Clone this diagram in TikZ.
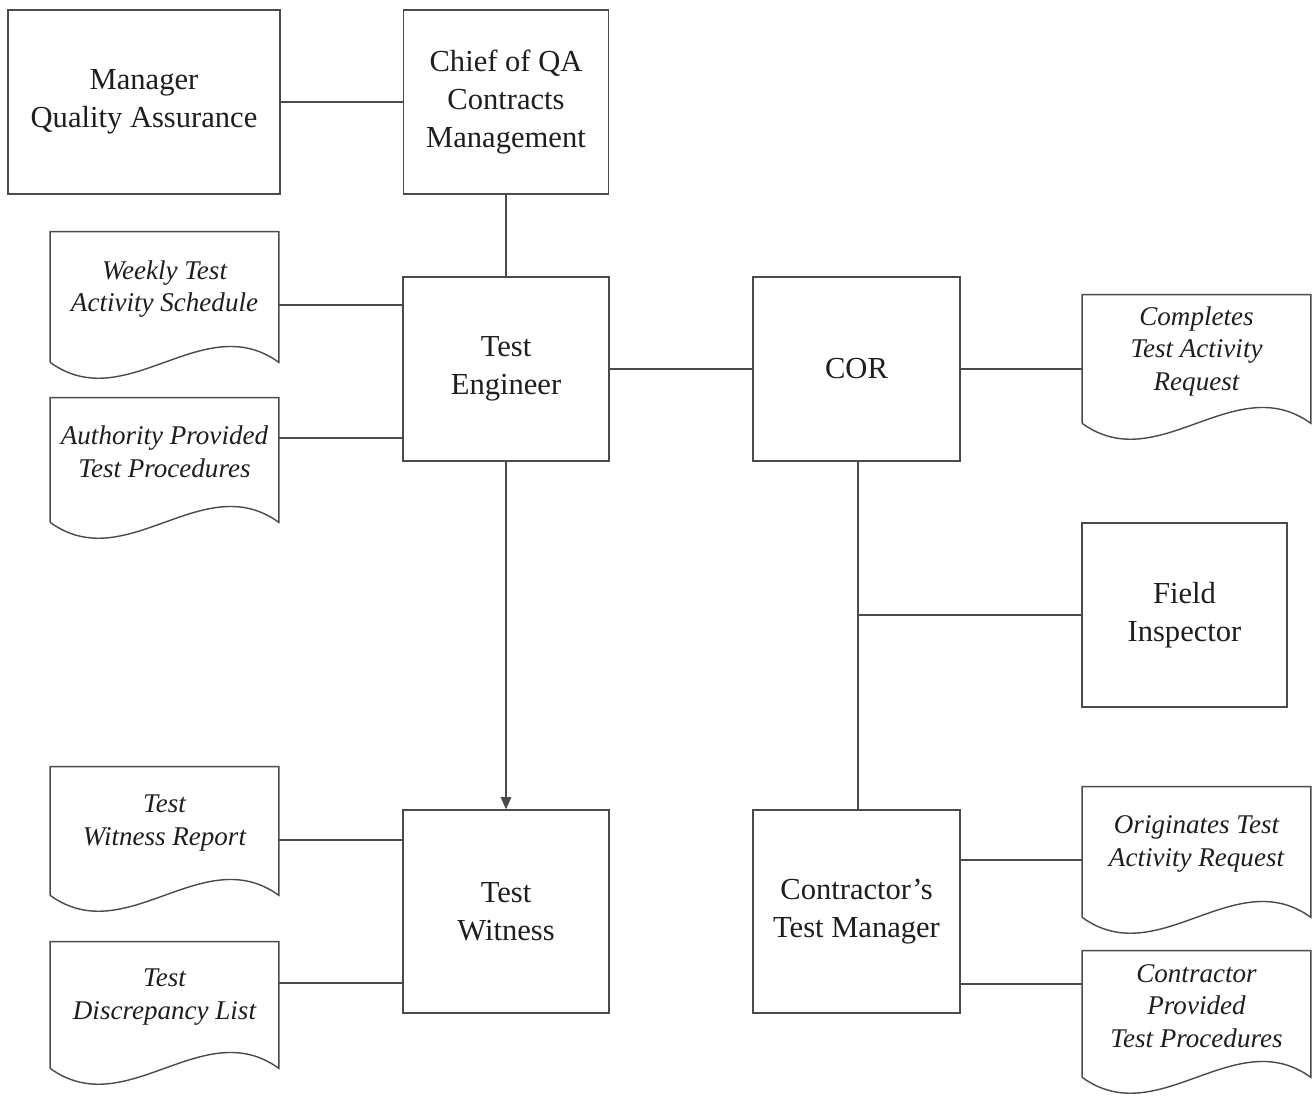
\documentclass[tikz,border=0pt]{standalone}
\usepackage{fontspec}
\setmainfont{Liberation Serif}
\usepackage{tikz}
\usetikzlibrary{arrows.meta, positioning, calc}
\definecolor{lineGray}{HTML}{4A4A4A}
\definecolor{inkDark}{HTML}{1E1E1E}

% outline of a document symbol drawn round a docbox node
\newcommand{\docwave}[1]{%
  \draw[lineGray, line width=0.8pt]
    ($(#1.south west)+(0,16)$) -- (#1.north west) -- (#1.north east)
    -- ($(#1.south east)+(0,16)$)
    .. controls +(-76,-55) and +(76,55) .. ($(#1.south west)+(0,16)$);}

\begin{document}
\begin{tikzpicture}[x=0.02cm, y=-0.02cm,
    orgbox/.style={draw=lineGray, line width=0.8pt, align=center, text=inkDark,
      font=\fontsize{17.4}{21.6}\selectfont, inner sep=2pt},
    docbox/.style={minimum width=228*0.02cm, align=center, text=inkDark,
      font=\itshape\fontsize{15.4}{18.5}\selectfont, inner sep=1pt},
    link/.style={lineGray, line width=0.8pt}]
  \useasboundingbox (0,0) rectangle (1316,1096);

  % organisation boxes
  \node[orgbox, minimum width=272*0.02cm, minimum height=184*0.02cm]
    (mqa) at (144,102) {Manager\\Quality Assurance};
  \node[orgbox, minimum width=205*0.02cm, minimum height=184*0.02cm]
    (chief) at (506,102) {Chief of QA\\Contracts\\Management};
  \node[orgbox, minimum width=206*0.02cm, minimum height=184*0.02cm]
    (te) at (506,369) {Test\\Engineer};
  \node[orgbox, minimum width=207*0.02cm, minimum height=184*0.02cm]
    (cor) at (856.5,369) {COR};
  \node[orgbox, minimum width=205*0.02cm, minimum height=184*0.02cm]
    (fi) at (1184.5,615) {Field\\Inspector};
  \node[orgbox, minimum width=206*0.02cm, minimum height=203*0.02cm]
    (tw) at (506,911.5) {Test\\Witness};
  \node[orgbox, minimum width=207*0.02cm, minimum height=203*0.02cm]
    (ctm) at (856.5,911.5) {Contractor’s\\Test Manager};

  % documents
  \node[docbox, minimum height=114*0.02cm] (wts) at (164.5,289)
    {Weekly Test\\Activity Schedule};
  \node[docbox, minimum height=108*0.02cm] (aptp) at (164.5,452)
    {Authority Provided\\Test Procedures};
  \node[docbox, minimum height=112*0.02cm] (twr) at (164.5,823)
    {Test\\Witness Report};
  \node[docbox, minimum height=110*0.02cm] (tdl) at (164.5,997)
    {Test\\Discrepancy List};
  \node[docbox, minimum height=112*0.02cm] (ctar) at (1196.5,351)
    {Completes\\Test Activity\\Request};
  \node[docbox, minimum height=114*0.02cm] (otar) at (1196.5,844)
    {Originates Test\\Activity Request};
  \node[docbox, minimum height=110*0.02cm] (cptp) at (1196.5,1006)
    {Contractor\\Provided\\Test Procedures};
  \foreach \d in {wts, aptp, twr, tdl, ctar, otar, cptp}
    \docwave{\d};

  % connection points
  \coordinate (te-wts) at ($(te.west)+(0,-64)$);
  \coordinate (te-aptp) at ($(te.west)+(0,69)$);
  \coordinate (tw-twr) at ($(tw.west)+(0,-71.5)$);
  \coordinate (tw-tdl) at ($(tw.west)+(0,71.5)$);
  \coordinate (ctm-otar) at ($(ctm.east)+(0,-51.5)$);
  \coordinate (ctm-cptp) at ($(ctm.east)+(0,72.5)$);
  \coordinate (cor-fi) at ($(cor.south)+(1.5,0)$);

  % connectors
  \draw[link] (mqa.east) -- (chief.west);
  \draw[link] (chief.south) -- (te.north);
  \draw[link] (wts.east |- te-wts) -- (te-wts);
  \draw[link] (aptp.east |- te-aptp) -- (te-aptp);
  \draw[link] (te.east) -- (cor.west);
  \draw[link] (cor.east) -- (cor.east -| ctar.west);
  \draw[link, -{Triangle[length=7pt, width=6pt]}] (te.south) -- (tw.north);
  \draw[link] (cor-fi) -- (cor-fi |- ctm.north);
  \draw[link] (cor-fi |- fi.west) -- (fi.west);
  \draw[link] (twr.east |- tw-twr) -- (tw-twr);
  \draw[link] (tdl.east |- tw-tdl) -- (tw-tdl);
  \draw[link] (ctm-otar) -- (ctm-otar -| otar.west);
  \draw[link] (ctm-cptp) -- (ctm-cptp -| cptp.west);
\end{tikzpicture}
\end{document}
